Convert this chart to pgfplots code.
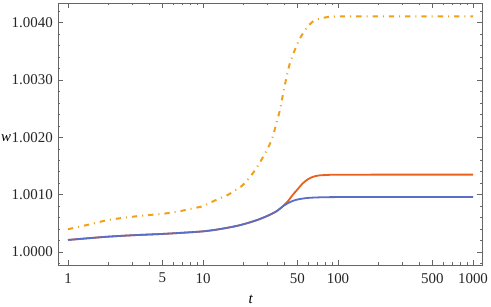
\documentclass[border=0pt]{standalone}
\usepackage{fontspec}
\setmainfont{Liberation Serif}
\usepackage{pgfplots}
\pgfplotsset{compat=1.18}
\usepackage{pgfplotstable}

\definecolor{cblue}{HTML}{5B6EC5}
\definecolor{cred}{HTML}{E8601C}
\definecolor{corange}{HTML}{F0A01A}
\definecolor{frame}{HTML}{666666}

% y = (w - 1) * 1000
\pgfplotstableread{
t y
1 0.210
1.5 0.245
2 0.268
3 0.292
5 0.315
7 0.335
10 0.360
13 0.395
17 0.445
20 0.485
25 0.555
30 0.630
35 0.710
40 0.815
45 0.880
50 0.915
58 0.940
70 0.952
100 0.958
300 0.960
1000 0.960
}\bluedata

\pgfplotstableread{
t y
1 0.210
1.5 0.245
2 0.268
3 0.292
5 0.315
7 0.335
10 0.360
13 0.395
17 0.445
20 0.485
25 0.555
30 0.630
35 0.710
40 0.820
43 0.900
46 0.990
50 1.090
55 1.200
60 1.270
65 1.310
72 1.335
85 1.345
100 1.348
300 1.350
1000 1.350
}\reddata

\pgfplotstableread{
t y
1 0.397
1.5 0.490
2 0.560
3 0.615
4 0.645
5 0.665
6.5 0.705
8 0.750
10 0.800
11.5 0.869
13 0.925
15.3 0.997
17 1.065
19.8 1.171
23.6 1.386
28 1.666
32.3 1.958
34.7 2.220
37.2 2.483
39.3 2.774
41.7 3.065
44.1 3.299
48 3.531
51.7 3.706
58.6 3.911
67.5 4.044
82.5 4.096
103.5 4.110
300 4.112
1000 4.112
}\orangedata

\begin{document}
\begin{tikzpicture}
\begin{axis}[
  at={(0,0)}, anchor=south west,
  scale only axis, width=424bp, height=262bp,
  xmode=log, xmin=0.843, xmax=1166, ymin=-0.227, ymax=4.344,
  axis line style={draw=frame, line width=0.7bp},
  tick align=inside, major tick length=5bp, minor tick length=2.5bp,
  every tick/.style={frame, line width=0.6bp},
  xtick={1,5,10,50,100,500,1000},
  xticklabels={1,5,10,50,100,500,1000},
  minor xtick={2,3,4,6,7,8,9,20,30,40,60,70,80,90,200,300,400,600,700,800,900},
  ytick={0,1,2,3,4},
  yticklabels={1.0000,1.0010,1.0020,1.0030,1.0040},
  minor ytick={-0.2,0.2,0.4,0.6,0.8,1.2,1.4,1.6,1.8,2.2,2.4,2.6,2.8,3.2,3.4,3.6,3.8,4.2},
  tick label style={font=\fontsize{15}{18}\selectfont, text=black!85},
  yticklabel style={anchor=east, inner sep=0pt, xshift=-5bp},
  xticklabel style={anchor=north, inner sep=0pt, yshift=-8bp},
  xlabel={\textit{t}}, ylabel={\textit{w}},
  every axis x label/.style={at={(axis description cs:0.455,-0.130)}, anchor=center, font=\fontsize{15}{18}\selectfont},
  every axis y label/.style={at={(axis description cs:-0.1226,0.485)}, anchor=center, font=\fontsize{15}{18}\selectfont},
]
\addplot[cred, line width=1.8bp, smooth, no markers] table[x=t,y=y] {\reddata};
\addplot[cblue, line width=1.8bp, smooth, no markers] table[x=t,y=y] {\bluedata};
\addplot[corange, line width=2bp, smooth, no markers, line cap=butt,
  dash pattern=on 5.3bp off 5bp on 1bp off 5bp] table[x=t,y=y] {\orangedata};
\end{axis}
\pgfresetboundingbox
\path[use as bounding box] (-58bp,-42bp) rectangle (433bp,265bp);
\end{tikzpicture}
\end{document}
